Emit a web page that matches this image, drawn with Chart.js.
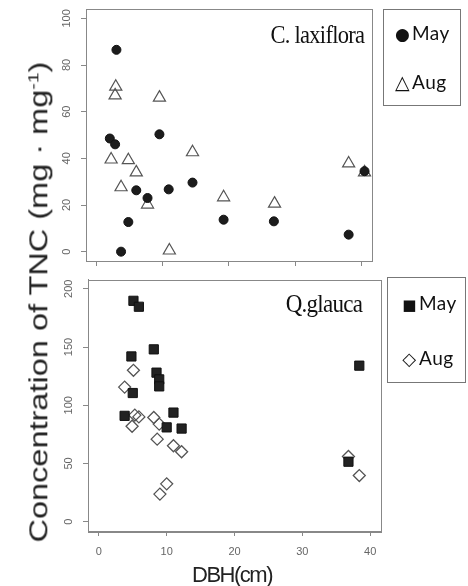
<!DOCTYPE html>
<html>
<head>
<meta charset="utf-8">
<script src="https://cdn.jsdelivr.net/npm/chart.js@4.4.1/dist/chart.umd.min.js"></script>
<style>
body { margin:0; background:#fff; width:468px; height:586px; position:relative; overflow:hidden; font-family:"Liberation Sans", Arial, sans-serif; }
canvas { position:absolute; left:0; }
#c1 { top:0; }
#c2 { top:272px; }
.ylab { position:absolute; left:36px; top:302px; font-size:25px; line-height:30px; white-space:nowrap; color:#222;
        transform: translate(-50%,-50%) rotate(-90deg) scaleX(1.3); }
.ylab sup { font-size:0.6em; }
.xlab { position:absolute; left:232px; top:575px; font-size:22px; line-height:24px; letter-spacing:-1.5px; white-space:nowrap; color:#222;
        transform: translate(-50%,-50%); }
.ptitle { position:absolute; font-family:"Liberation Serif", serif; font-size:25px; line-height:25px; white-space:nowrap; color:#111;
          letter-spacing:-0.8px; transform-origin:right center; }
.leg { position:absolute; border:1px solid #777; box-sizing:border-box; font-family:Lato, "Open Sans", sans-serif; font-size:19px; color:#111; }
.leg div { position:absolute; white-space:nowrap; line-height:22px; letter-spacing:0.5px; }
.leg span { font-family:"DejaVu Sans", sans-serif; display:inline-block; width:15px; text-align:center; margin-right:2px; line-height:22px; }
</style>
</head>
<body>
<canvas id="c1" width="380" height="272"></canvas>
<canvas id="c2" width="390" height="314"></canvas>

<div class="ylab">Concentration of TNC (mg · mg<sup>-1</sup>)</div>
<div class="xlab">DBH(cm)</div>

<div class="ptitle" style="right:104px; top:22px; transform:scaleX(0.9);">C. laxiflora</div>
<div class="ptitle" style="right:106px; top:291px; transform:scaleX(0.92);">Q.glauca</div>

<div class="leg" style="left:383px; top:9px; width:78px; height:97px;">
  <div style="left:11px; top:12px;"><span style="font-size:17px;">●</span>May</div>
  <div style="left:11px; top:61px;"><span style="font-size:19px;">△</span>Aug</div>
</div>
<div class="leg" style="left:387px; top:277px; width:79px; height:106px;">
  <div style="left:14px; top:14px;"><span style="font-size:15px;">■</span>May</div>
  <div style="left:14px; top:69px;"><span style="font-size:18px;">◇</span>Aug</div>
</div>

<script>
// tick labels
var xTicks = [0, 10, 20, 30, 40];
var topYTicks = [0, 20, 40, 60, 80, 100];
var bottomYTicks = [0, 50, 100, 150, 200];

// C. laxiflora - May (DBH cm, TNC)
var lxMayDBH = [3.0, 2.0, 2.8, 9.5, 6.0, 7.7, 4.8, 3.7, 10.9, 14.5, 19.2, 26.8, 38.1, 40.5];
var lxMayTNC = [86.5, 48.5, 46, 50.3, 26.3, 23, 12.7, 0, 26.7, 29.6, 13.7, 13, 7.3, 34.5];
// C. laxiflora - Aug
var lxAugDBH = [2.9, 2.8, 9.5, 2.2, 4.8, 6.0, 3.7, 7.7, 11.0, 14.5, 19.2, 26.9, 38.1, 40.5];
var lxAugTNC = [70.7, 67, 66, 39.5, 39.2, 34, 27.6, 20.2, 0.5, 42.6, 23.3, 20.6, 37.8, 34];

// Q. glauca - May
var qgMayDBH = [5.1, 5.9, 4.8, 8.1, 8.5, 8.9, 8.9, 5.0, 3.8, 11.0, 10.0, 12.2, 36.8, 38.4];
var qgMayTNC = [189.7, 184.6, 141.9, 148, 128, 122.2, 116.2, 110.5, 90.9, 93.7, 81, 80, 51.5, 134];
// Q. glauca - Aug
var qgAugDBH = [5.1, 3.8, 5.3, 5.9, 4.9, 8.1, 8.9, 8.6, 11.0, 12.2, 9.0, 10.0, 36.8, 38.4];
var qgAugTNC = [130, 115.6, 91.5, 90, 82, 89.5, 83.8, 70.9, 65.2, 60.1, 23.7, 32.5, 56, 39.6];

function pts(xs, ys) {
    return xs.map(function (x, i) { return { x: x, y: ys[i] }; });
}

// frame around the plot region, like R's box()
var boxPlugin = {
    id: 'box',
    afterDraw: function (chart) {
        var a = chart.chartArea;
        var ctx = chart.ctx;
        ctx.save();
        ctx.strokeStyle = '#888';
        ctx.lineWidth = 1;
        ctx.strokeRect(Math.round(a.left) + 0.5, Math.round(a.top) + 0.5,
                       Math.round(a.right - a.left), Math.round(a.bottom - a.top));
        ctx.restore();
    }
};

function makeScales(yTicks, yMin, yMax, showXLabels, xHeight, yWidth) {
    return {
        x: {
            type: 'linear', min: -1.6, max: 41.6,
            afterBuildTicks: function (s) { s.ticks = xTicks.map(function (v) { return { value: v }; }); },
            afterFit: function (s) { s.height = xHeight; s.paddingLeft = 0; s.paddingRight = 0; },
            grid: { drawOnChartArea: false, tickLength: 5, color: '#888' },
            border: { color: '#888' },
            ticks: { display: showXLabels, autoSkip: false, maxRotation: 0, padding: 9, color: '#666',
                     font: { family: 'Liberation Sans', size: 11 } }
        },
        y: {
            type: 'linear', min: yMin, max: yMax,
            afterBuildTicks: function (s) { s.ticks = yTicks.map(function (v) { return { value: v }; }); },
            afterFit: function (s) { s.width = yWidth; s.paddingTop = 0; s.paddingBottom = 0; },
            grid: { drawOnChartArea: false, tickLength: 5, color: '#888' },
            border: { color: '#888' },
            ticks: { autoSkip: false, minRotation: 90, maxRotation: 90, crossAlign: 'center', padding: 5, color: '#666',
                     font: { family: 'Liberation Sans', size: 11 } }
        }
    };
}

var common = {
    responsive: false,
    animation: false,
    events: [],
    plugins: { legend: { display: false }, tooltip: { enabled: false } }
};

new Chart(document.getElementById('c1'), {
    type: 'scatter',
    data: {
        datasets: [
            { label: 'May', data: pts(lxMayDBH, lxMayTNC), pointStyle: 'circle', pointRadius: 4.5,
              backgroundColor: '#1c1c1c', borderColor: '#111', borderWidth: 1 },
            { label: 'Aug', data: pts(lxAugDBH, lxAugTNC), pointStyle: 'triangle', pointRadius: 7,
              backgroundColor: 'rgba(0,0,0,0)', borderColor: '#555', borderWidth: 1.2 }
        ]
    },
    options: Object.assign({}, common, {
        layout: { padding: { left: 0, right: 4, top: 9, bottom: 0 } },
        scales: makeScales(topYTicks, -4, 104, false, 11, 86)
    }),
    plugins: [boxPlugin]
});

new Chart(document.getElementById('c2'), {
    type: 'scatter',
    data: {
        datasets: [
            { label: 'May', data: pts(qgMayDBH, qgMayTNC), pointStyle: 'rect', pointRadius: 6.5,
              backgroundColor: '#222', borderColor: '#111', borderWidth: 1 },
            { label: 'Aug', data: pts(qgAugDBH, qgAugTNC), pointStyle: 'rectRot', pointRadius: 6,
              backgroundColor: 'rgba(0,0,0,0)', borderColor: '#555', borderWidth: 1.3 }
        ]
    },
    options: Object.assign({}, common, {
        layout: { padding: { left: 0, right: 9, top: 6, bottom: 0 } },
        scales: makeScales(bottomYTicks, -8, 208, true, 55, 88)
    }),
    plugins: [boxPlugin]
});
</script>
</body>
</html>
